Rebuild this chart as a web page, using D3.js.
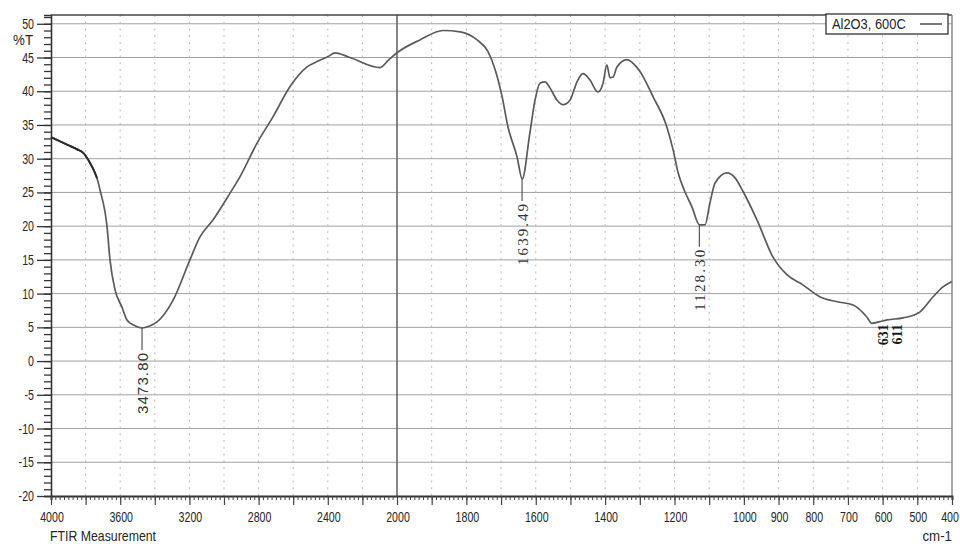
<!DOCTYPE html>
<html>
<head>
<meta charset="utf-8">
<script src="https://cdn.jsdelivr.net/npm/d3@7"></script>
<style>
  body { margin: 0; background: #fff; }
  text { font-family: "Liberation Sans", Arial, sans-serif; fill: #262626; }
</style>
</head>
<body>
<svg id="chart" width="960" height="544"></svg>
<script>
// FTIR spectrum of Al2O3 calcined at 600 °C
const wavenumber = [
  4000, 3950, 3900, 3850, 3815, 3775, 3746, 3734, 3717, 3676, 3659, 3630, 3590, 3561, 3520,
  3474, 3430, 3387, 3295, 3197, 3139, 3064, 2965, 2908, 2809, 2717, 2618, 2520, 2462, 2400,
  2358, 2272, 2098, 2050, 2000, 1934, 1867, 1818, 1769, 1738, 1717, 1697, 1680, 1654, 1639,
  1617, 1602, 1588, 1573, 1559, 1539, 1521, 1501, 1481, 1464, 1444, 1421, 1406, 1395, 1386,
  1377, 1366, 1337, 1308, 1299, 1262, 1222, 1204, 1190, 1170, 1150, 1128, 1112, 1098, 1083,
  1049, 1026, 1002, 962, 916, 876, 830, 780, 731, 685, 645, 631, 611, 587, 541,
  492, 455, 426, 400
];
const transmittance = [
  33.2, 32.6, 32.0, 31.4, 30.9, 29.4, 27.9, 27.1, 25.4, 19.9, 15.0, 10.6, 8.0, 6.1, 5.3,
  4.9, 5.2, 5.8, 9.0, 15.0, 18.4, 20.9, 24.9, 27.3, 32.3, 36.2, 40.7, 43.6, 44.4, 45.1,
  45.7, 45.0, 43.5, 44.6, 45.7, 47.6, 49.0, 48.8, 47.6, 45.9, 43.2, 39.2, 34.7, 30.3, 27.0,
  33.8, 38.7, 41.2, 41.4, 40.5, 38.7, 38.0, 38.7, 41.4, 42.6, 41.7, 39.9, 41.2, 43.9, 42.0,
  42.1, 43.6, 44.7, 43.5, 42.9, 39.2, 34.7, 31.3, 28.0, 25.1, 22.9, 20.2, 20.2, 23.4, 26.4,
  27.9, 27.2, 25.1, 20.9, 15.4, 12.8, 11.3, 9.5, 8.8, 8.3, 6.5, 5.6, 5.8, 6.1, 6.4,
  7.3, 9.5, 11.0, 11.8
];

// Labelled absorption bands
const peakWavenumbers = [3473.80, 1639.49, 1128.30];
const peakValues = [4.9, 27.0, 20.2];
const peakLabels = ["3473.80", "1639.49", "1128.30"];
const bandWavenumbers = [631, 611];
const bandLabels = ["631", "611"];

const yTickValues = [50, 45, 40, 35, 30, 25, 20, 15, 10, 5, 0, -5, -10, -15, -20];
const xTickLabels = [4000, 3600, 3200, 2800, 2400, 2000, 1800, 1600, 1400, 1200, 1000, 900, 800, 700, 600, 500, 400];
const seriesName = "Al2O3, 600C";

const svg = d3.select("#chart");
const plotLeft = 51, plotRight = 952, plotTop = 15, plotBottom = 496;

// Instrument-style wavenumber axis: scale doubles below 2000 cm-1
const x = d3.scaleLinear().domain([4000, 2000, 400]).range([plotLeft, 397, plotRight]);
const y = d3.scaleLinear().domain([-20, 51.3]).range([plotBottom, plotTop]);

// Horizontally compressed label helper
function label(g, px, py, str, anchor, size, squeeze) {
  return g.append("text")
    .attr("transform", `translate(${px},${py}) scale(${squeeze || 0.76},1)`)
    .attr("text-anchor", anchor)
    .style("font-size", (size || 14) + "px")
    .text(str);
}

const grid = svg.append("g");
// Horizontal grid every 5 %T
grid.selectAll("line.h").data(yTickValues.filter(v => v > -20)).join("line")
  .attr("x1", plotLeft).attr("x2", plotRight)
  .attr("y1", d => y(d)).attr("y2", d => y(d))
  .attr("stroke", "#a0a0a0").attr("stroke-width", 1);

// Vertical dotted grid
const vGrid = d3.range(3800, 2000, -200).concat(d3.range(1900, 400, -100));
const unitPx = y(0) - y(1);
grid.selectAll("line.v").data(vGrid).join("line")
  .attr("x1", d => x(d)).attr("x2", d => x(d))
  .attr("y1", plotBottom).attr("y2", plotTop)
  .attr("stroke", "#b8b8b8").attr("stroke-width", 1)
  .attr("stroke-dasharray", `2,${unitPx - 2}`);

// Range break at 2000 cm-1
grid.append("line")
  .attr("x1", x(2000)).attr("x2", x(2000)).attr("y1", plotTop).attr("y2", plotBottom)
  .attr("stroke", "#666").attr("stroke-width", 1.6);

// Frame
svg.append("line").attr("x1", plotLeft).attr("x2", plotRight).attr("y1", plotTop).attr("y2", plotTop)
  .attr("stroke", "#444").attr("stroke-width", 1.5);
svg.append("line").attr("x1", plotRight).attr("x2", plotRight).attr("y1", plotTop).attr("y2", plotBottom)
  .attr("stroke", "#888").attr("stroke-width", 1.5);

// Y axis: minor ticks each unit, major every 5
const yAxisG = svg.append("g").attr("transform", `translate(${plotLeft},0)`);
yAxisG.call(d3.axisLeft(y).tickValues(d3.range(-20, 52, 1)).tickSize(7).tickFormat(""));
yAxisG.call(g => g.selectAll(".tick line").attr("stroke", "#333").attr("stroke-width", 1.3));
yAxisG.append("g").call(d3.axisLeft(y).tickValues(yTickValues).tickSize(14).tickFormat(""))
  .call(g => g.select(".domain").remove())
  .call(g => g.selectAll(".tick line").attr("stroke", "#333").attr("stroke-width", 1.3));
yAxisG.select(".domain").attr("stroke", "#333").attr("stroke-width", 1.6);
yTickValues.forEach(v => label(svg, 34, y(v) + 5, String(v), "end"));
label(svg, 33, 45, "%T", "end", 14, 0.95);

// X axis ticks
const xAxisG = svg.append("g").attr("transform", `translate(0,${plotBottom})`);
const xMinor = d3.range(4000, 2000, -25).concat(d3.range(2000, 400 - 1, -12.5));
xAxisG.call(d3.axisBottom(x).tickValues(xMinor).tickSize(4).tickFormat(""));
xAxisG.call(g => g.selectAll(".tick line").attr("stroke", "#444"));
xAxisG.select(".domain").attr("stroke", "#333").attr("stroke-width", 2);
xAxisG.append("g").call(d3.axisBottom(x).tickValues([4000, ...vGrid, 2000, 400]).tickSize(9).tickFormat(""))
  .call(g => g.select(".domain").remove())
  .call(g => g.selectAll(".tick line").attr("stroke", "#444").attr("stroke-width", 1.2));
xTickLabels.forEach(v => {
  // keep the last label inside the canvas edge
  const cx = Math.min(x(v) + 1, 958 - 8);
  label(svg, cx, 522, String(v), "middle");
});
label(svg, 50, 541, "FTIR Measurement", "start", 14, 0.88);
label(svg, 952, 541, "cm-1", "end", 14, 0.95);

// Spectrum
const pts = wavenumber.map((w, i) => [w, transmittance[i]]);
const line = d3.line().x(d => x(d[0])).y(d => y(d[1])).curve(d3.curveMonotoneX);
svg.append("path").datum(pts).attr("d", line)
  .attr("fill", "none").attr("stroke", "#5a5a5a").attr("stroke-width", 1.7);
svg.append("path").datum(pts.filter(d => d[0] >= 3734)).attr("d", line)
  .attr("fill", "none").attr("stroke", "#2a2a2a").attr("stroke-width", 2);

// Peak annotations
const leader = 22;
peakWavenumbers.forEach((w, i) => {
  const px = x(w), py = y(peakValues[i]);
  svg.append("line").attr("x1", px).attr("x2", px).attr("y1", py).attr("y2", py + leader)
    .attr("stroke", "#555").attr("stroke-width", 1.2);
  svg.append("text")
    .attr("transform", `translate(${px + 5.5},${py + leader + 3}) rotate(-90)`)
    .attr("text-anchor", "end")
    .attr("textLength", 61).attr("lengthAdjust", "spacing")
    .style("font-family", i === 0 ? "'Liberation Sans', Arial, sans-serif" : "'Liberation Serif', 'Times New Roman', serif")
    .style("font-size", "15px").style("fill", "#333")
    .text(peakLabels[i]);
});
bandWavenumbers.forEach((w, i) => {
  svg.append("text")
    .attr("transform", `translate(${x(w) + 16 + i * 7},${y(5.6) + 1}) rotate(-90)`)
    .attr("text-anchor", "end")
    .style("font-family", "'Liberation Serif', 'Times New Roman', serif")
    .style("font-weight", "bold").style("font-size", "14px").style("fill", "#1a1a1a")
    .text(bandLabels[i]);
});

// Legend
const lg = svg.append("g");
lg.append("rect").attr("x", 826).attr("y", 14).attr("width", 122).attr("height", 20)
  .attr("fill", "#fff").attr("stroke", "#333").attr("stroke-width", 1.3);
label(lg, 832, 29, seriesName, "start", 14, 0.92);
lg.append("line").attr("x1", 920).attr("x2", 942).attr("y1", 24).attr("y2", 24)
  .attr("stroke", "#333").attr("stroke-width", 1.3);
</script>
</body>
</html>
